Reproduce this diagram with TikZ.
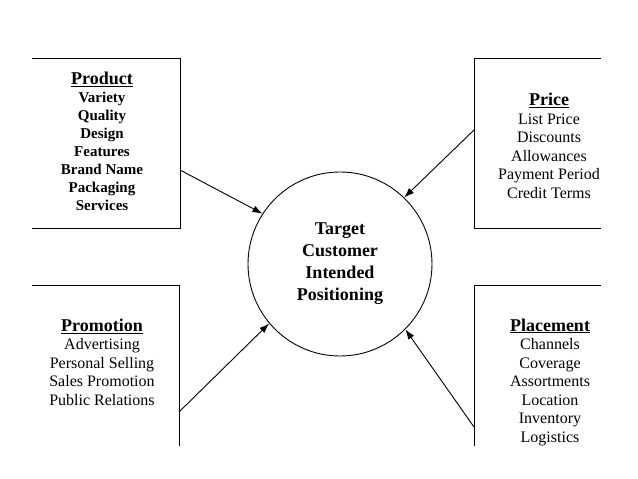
\documentclass[tikz,border=0pt]{standalone}
\usepackage{fontspec}
\setmainfont{Liberation Serif}
\usetikzlibrary{arrows.meta}

\newcommand{\hdline}[1]{\underline{#1}}

\begin{document}
\begin{tikzpicture}[x=1pt, y=1pt,
		edge/.style={line width=0.9pt},
		feed/.style={line width=0.9pt, -{Latex[length=10pt,width=7pt]}},
		listbold/.style={align=center, font=\fontsize{15}{18}\selectfont\bfseries},
		listplain/.style={align=center, font=\fontsize{16}{18.5}\selectfont}]
		\useasboundingbox (0,0) rectangle (638,479);

		% the four mix boxes (open at the slide edge)
		\draw[edge] (32,421) -- (180,421) -- (180,251) -- (32,251);
		\draw[edge] (601,421) -- (474,421) -- (474,251) -- (601,251);
		\draw[edge] (32,194) -- (179,194) -- (179,33);
		\draw[edge] (601,194) -- (474,194) -- (474,33);

		\node[listbold] (product) at (102,338) {{\fontsize{18}{20}\selectfont\hdline{Product}}\\Variety\\Quality\\Design\\Features\\Brand Name\\Packaging\\Services};
		\node[listplain] (price) at (549,333) {{\fontsize{18}{20}\selectfont\bfseries\hdline{Price}}\\List Price\\Discounts\\Allowances\\Payment Period\\Credit Terms};
		\node[listplain] (promotion) at (102,117) {{\fontsize{18}{20}\selectfont\bfseries\hdline{Promotion}}\\Advertising\\Personal Selling\\Sales Promotion\\Public Relations};
		\node[listplain] (placement) at (550,97) {{\fontsize{18}{20}\selectfont\bfseries\hdline{Placement}}\\Channels\\Coverage\\Assortments\\Location\\Inventory\\Logistics};

		\node[draw, circle, line width=0.9pt, minimum size=184pt, inner sep=0pt, align=center,
			font=\fontsize{18}{22}\selectfont\bfseries] (target) at (340,215) {Target\\Customer\\Intended\\Positioning};

		\coordinate (prodout) at (180,309);
		\coordinate (priceout) at (474,349);
		\coordinate (promout) at (179,67);
		\coordinate (placeout) at (474,52);

		\draw[feed] (prodout) -- (target.147);
		\draw[feed] (priceout) -- (target.46);
		\draw[feed] (promout) -- (target.220);
		\draw[feed] (placeout) -- (target.315);

	\end{tikzpicture}
\end{document}
